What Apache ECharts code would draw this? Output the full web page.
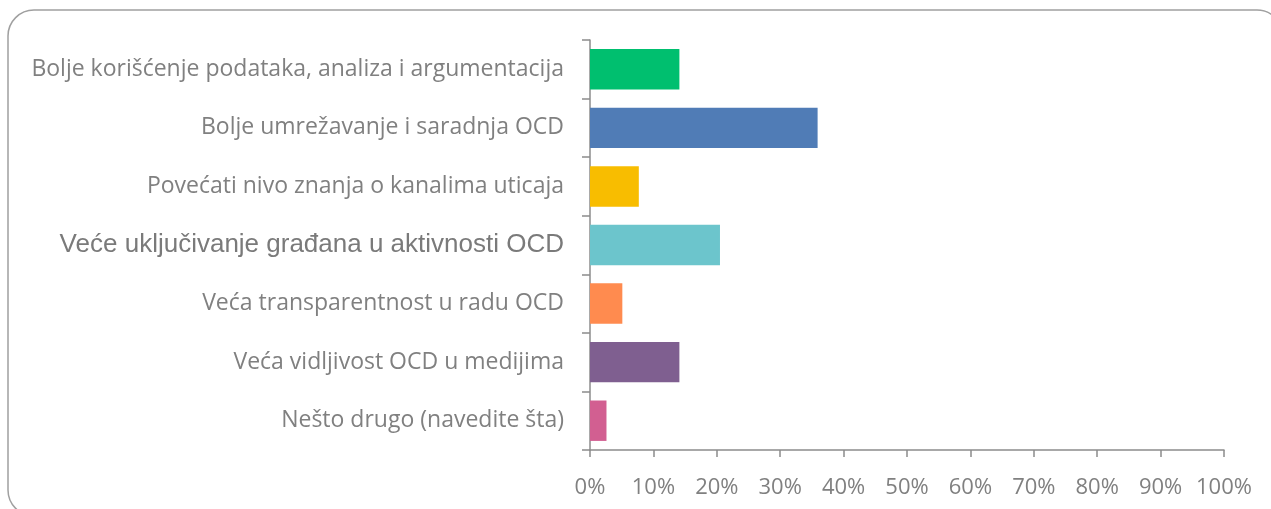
<!DOCTYPE html>
<html>
<head>
<meta charset="utf-8">
<script src="https://cdn.jsdelivr.net/npm/echarts@6/dist/echarts.min.js"></script>
<style>
  html, body { margin: 0; padding: 0; background: #fff; }
  #main { width: 1271px; height: 509px; }
</style>
</head>
<body>
<div id="main"></div>
<script>
var categories = [
    'Bolje korišćenje podataka, analiza i argumentacija',
    'Bolje umrežavanje i saradnja OCD',
    'Povećati nivo znanja o kanalima uticaja',
    'Veće uključivanje građana u aktivnosti OCD',
    'Veća transparentnost u radu OCD',
    'Veća vidljivost OCD u medijima',
    'Nešto drugo (navedite šta)'
];
var values = [14.1, 35.9, 7.7, 20.5, 5.1, 14.1, 2.6];
var colors = ['#00bf6f', '#507cb6', '#f8bd00', '#6cc5cc', '#ff8b4f', '#7f5f90', '#d25f91'];

var myChart = echarts.init(document.getElementById('main'));

var data = [];
for (var i = 0; i < values.length; i++) {
    data.push({ value: values[i], itemStyle: { color: colors[i] } });
}

var option = {
    animation: false,
    graphic: [
        {
            type: 'rect',
            shape: { x: 8, y: 10, width: 1275, height: 506, r: 26 },
            style: { fill: 'none', stroke: '#a0a0a0', lineWidth: 1.5 },
            silent: true
        }
    ],
    grid: { left: 590, right: 47, top: 40, bottom: 59 },
    xAxis: {
        type: 'value',
        min: 0,
        max: 100,
        interval: 10,
        splitLine: { show: false },
        axisLine: { show: true, lineStyle: { color: '#8c8c8c', width: 1.5 } },
        axisTick: { show: true, length: 7, lineStyle: { color: '#8c8c8c', width: 1.5 } },
        axisLabel: {
            formatter: '{value}%',
            color: '#808080',
            fontFamily: 'Open Sans',
            fontSize: 22,
            margin: 27
        }
    },
    yAxis: {
        type: 'category',
        inverse: true,
        data: categories,
        axisLine: { show: true, lineStyle: { color: '#8c8c8c', width: 1.5 } },
        axisTick: { show: true, length: 8, lineStyle: { color: '#8c8c8c', width: 1.5 } },
        axisLabel: {
            color: '#808080',
            fontFamily: 'Open Sans',
            fontSize: 23,
            margin: 26,
            formatter: function (v, idx) {
                if (idx === 3) return '{a|' + v + '}';
                return v;
            },
            rich: {
                a: { fontFamily: 'Liberation Sans', fontSize: 26, color: '#7a7a7a' }
            }
        }
    },
    series: [
        {
            type: 'bar',
            data: data,
            barCategoryGap: '31%'
        }
    ]
};
myChart.setOption(option);
</script>
</body>
</html>
